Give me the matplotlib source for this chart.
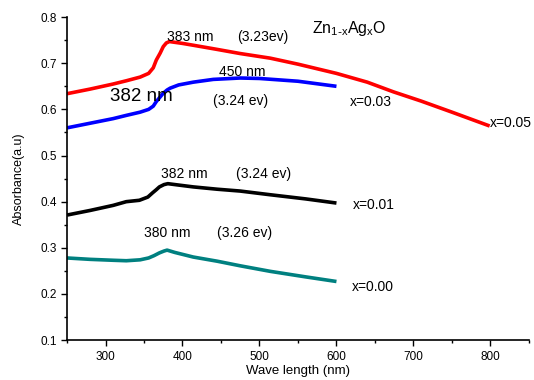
import numpy as np
import matplotlib.pyplot as plt
from matplotlib.ticker import MultipleLocator

plt.rcParams['font.family'] = ['Liberation Sans', 'DejaVu Sans']

# x = 0.05 (red)
wl_05 = [250, 280, 310, 327, 345, 356, 362, 366, 371, 375, 379, 383, 400, 414, 445, 475, 514, 550, 600, 640, 674, 710, 750, 799]
ab_05 = [0.634, 0.644, 0.655, 0.662, 0.670, 0.678, 0.690, 0.707, 0.722, 0.736, 0.744, 0.747, 0.743, 0.739, 0.730, 0.721, 0.711, 0.698, 0.678, 0.659, 0.638, 0.618, 0.594, 0.564]

# x = 0.03 (blue)
wl_03 = [250, 280, 310, 327, 345, 356, 362, 366, 371, 375, 380, 384, 395, 414, 440, 475, 500, 550, 600]
ab_03 = [0.560, 0.570, 0.580, 0.587, 0.594, 0.600, 0.607, 0.617, 0.627, 0.635, 0.642, 0.646, 0.653, 0.659, 0.665, 0.668, 0.667, 0.661, 0.650]

# x = 0.01 (black)
wl_01 = [250, 280, 310, 327, 344, 355, 361, 366, 370, 376, 381, 395, 414, 445, 475, 514, 560, 600]
ab_01 = [0.371, 0.381, 0.392, 0.400, 0.403, 0.410, 0.419, 0.426, 0.432, 0.437, 0.439, 0.436, 0.432, 0.427, 0.423, 0.415, 0.406, 0.397]

# x = 0.00 (teal)
wl_00 = [250, 280, 310, 327, 345, 356, 363, 370, 376, 380, 390, 414, 445, 475, 514, 560, 600]
ab_00 = [0.278, 0.275, 0.273, 0.272, 0.274, 0.278, 0.283, 0.289, 0.293, 0.295, 0.290, 0.280, 0.271, 0.261, 0.249, 0.237, 0.227]

series = [
    (wl_05, ab_05, '#ff0000'),
    (wl_03, ab_03, '#0000ff'),
    (wl_01, ab_01, '#000000'),
    (wl_00, ab_00, '#008080'),
]

fig = plt.figure(figsize=(5.34, 3.80), dpi=100)
ax = fig.add_axes([0.1255, 0.105, 0.865, 0.850])

for wl, ab, col in series:
    ax.plot(wl, ab, color=col, lw=2.6, solid_capstyle='butt', solid_joinstyle='round')

ax.set_xlim(250, 850)
ax.set_ylim(0.1, 0.8)
ax.xaxis.set_major_locator(MultipleLocator(100))
ax.xaxis.set_minor_locator(MultipleLocator(50))
ax.yaxis.set_major_locator(MultipleLocator(0.1))
ax.yaxis.set_minor_locator(MultipleLocator(0.05))
ax.tick_params(which='both', direction='out', labelsize=8.5, width=1)
ax.tick_params(which='major', length=4)
ax.tick_params(which='minor', length=2.5)
ax.spines['top'].set_visible(False)
ax.spines['right'].set_visible(False)
ax.spines['left'].set_linewidth(1.2)
ax.spines['bottom'].set_linewidth(1.2)

ax.set_xlabel('Wave length (nm)', fontsize=9.5, va='center')
ax.xaxis.set_label_coords(0.5, -0.095)
ax.set_ylabel('Absorbance(a.u)', fontsize=9, labelpad=11)

fs = 10
ax.text(380, 0.757, '383 nm', fontsize=fs, va='center')
ax.text(471, 0.757, '(3.23ev)', fontsize=fs, va='center')
ax.text(568, 0.776, r'Zn$_{\mathregular{1\text{-}x}}$Ag$_{\mathregular{x}}$O', fontsize=11.5, va='center')
ax.text(448, 0.681, '450 nm', fontsize=fs, va='center')
ax.text(306, 0.627, '382 nm', fontsize=13.5, va='center')
ax.text(439, 0.618, '(3.24 ev)', fontsize=fs, va='center')
ax.text(618, 0.615, 'x=0.03', fontsize=fs, va='center')
ax.text(799, 0.571, 'x=0.05', fontsize=fs, va='center', clip_on=False)
ax.text(372, 0.461, '382 nm', fontsize=fs, va='center')
ax.text(469, 0.461, '(3.24 ev)', fontsize=fs, va='center')
ax.text(621, 0.393, 'x=0.01', fontsize=fs, va='center')
ax.text(350, 0.333, '380 nm', fontsize=fs, va='center')
ax.text(445, 0.333, '(3.26 ev)', fontsize=fs, va='center')
ax.text(620, 0.214, 'x=0.00', fontsize=fs, va='center')

fig.savefig('out.png', dpi=100)
